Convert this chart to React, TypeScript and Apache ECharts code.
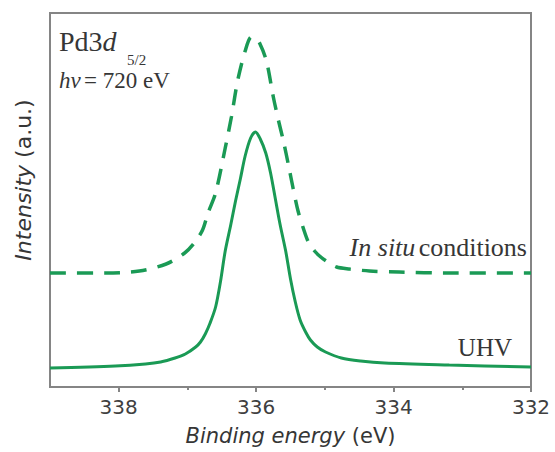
import React, { useEffect, useRef } from 'react';
import * as echarts from 'echarts';

// Binding energy (eV) and intensity (a.u.)
const bindingEnergyUHV = [339.0, 338.05, 337.61, 337.39, 337.18, 337.03, 336.88, 336.81, 336.74, 336.67, 336.59, 336.52, 336.45, 336.37, 336.3, 336.23, 336.16, 336.08, 336.01, 335.94, 335.86, 335.79, 335.72, 335.65, 335.57, 335.5, 335.43, 335.36, 335.28, 335.21, 335.11, 334.99, 334.76, 334.48, 334.13, 333.19, 332.0];
const intensityUHV = [19, 21, 23, 25, 29, 33, 40, 45, 53, 64, 80, 105, 136, 162, 186, 208, 231, 249, 255, 248, 234, 214, 188, 162, 136, 108, 85, 67, 55, 47, 40, 35, 29, 26, 24, 22, 20];

const bindingEnergyInSitu = [339.0, 338.18, 337.7, 337.31, 337.04, 336.9, 336.78, 336.7, 336.59, 336.45, 336.36, 336.27, 336.16, 336.07, 336.01, 335.95, 335.85, 335.75, 335.68, 335.6, 335.53, 335.46, 335.39, 335.31, 335.24, 335.15, 335.06, 334.96, 334.83, 334.64, 334.35, 333.92, 333.19, 332.0];
const intensityInSitu = [114, 114, 116, 123, 134, 144, 157, 174, 194, 239, 270, 306, 336, 350, 349, 344, 326, 290, 268, 245, 222, 198, 176, 158, 145, 136, 130, 125, 120, 118, 116, 115, 114, 114];

const majorTicks = [338, 336, 334, 332];
const minorTicks = [337, 335, 333];

const GREEN = '#1a9a55';
const FRAME = '#858585';
const TEXT = '#363636';

export default function App() {
  const ref = useRef<HTMLDivElement>(null);
  useEffect(() => {
    document.body.style.margin = '0';
    const chart = echarts.init(ref.current!, null, { renderer: 'svg' });
    const uhv = bindingEnergyUHV.map((x, i) => [x, intensityUHV[i]]);
    const insitu = bindingEnergyInSitu.map((x, i) => [x, intensityInSitu[i]]);
    chart.setOption({
      animation: false,
      backgroundColor: '#ffffff',
      grid: {
        left: 50, right: 24, top: 13, bottom: 65,
        show: true, borderColor: FRAME, borderWidth: 2,
        outerBoundsMode: 'none',
      },
      xAxis: [
        {
          type: 'value', inverse: true, min: 332, max: 339, position: 'bottom',
          axisLine: { show: true, lineStyle: { color: FRAME, width: 2 } },
          axisTick: { show: true, length: 5, inside: false, customValues: majorTicks, lineStyle: { color: FRAME, width: 2 } },
          axisLabel: {
            show: true, customValues: majorTicks, margin: 10,
            fontFamily: 'DejaVu Sans', fontSize: 20, color: '#404040',
            formatter: (v: number) => String(v),
          },
          splitLine: { show: false },
          name: '{i|Binding energy} (eV)',
          nameLocation: 'middle', nameGap: 38,
          nameTextStyle: {
            fontFamily: 'DejaVu Sans', fontSize: 21, color: TEXT,
            rich: { i: { fontFamily: 'DejaVu Sans', fontSize: 21, fontStyle: 'italic', color: TEXT } },
          },
        },
        {
          type: 'value', inverse: true, min: 332, max: 339, position: 'bottom',
          axisLine: { show: false },
          axisTick: { show: true, length: 3, inside: false, customValues: minorTicks, lineStyle: { color: FRAME, width: 2 } },
          axisLabel: { show: false },
          splitLine: { show: false },
        },
      ],
      yAxis: {
        type: 'value', min: 0, max: 374,
        axisLine: { show: false }, axisTick: { show: false },
        axisLabel: { show: false }, splitLine: { show: false },
      },
      series: [
        {
          name: 'In situ conditions', type: 'line', data: insitu,
          showSymbol: false, smooth: 0.3,
          lineStyle: { color: GREEN, width: 3.5, type: [16, 11] },
        },
        {
          name: 'UHV', type: 'line', data: uhv,
          showSymbol: false, smooth: 0.3,
          lineStyle: { color: GREEN, width: 3 },
        },
      ],
      graphic: [
        {
          type: 'text', x: 59, y: 41.5,
          style: {
            text: '{n|Pd3}{i|d}',
            verticalAlign: 'middle', align: 'left',
            rich: {
              n: { fontFamily: 'Liberation Serif', fontSize: 28, fill: TEXT },
              i: { fontFamily: 'Liberation Serif', fontSize: 28, fontStyle: 'italic', fill: TEXT },
            },
          },
        },
        {
          type: 'text', x: 127, y: 59.5,
          style: { text: '5/2', fontFamily: 'Liberation Serif', fontSize: 15, fill: TEXT, verticalAlign: 'middle', align: 'left' },
        },
        {
          type: 'text', x: 59, y: 80,
          style: {
            text: '{i|hv} {n|= 720 eV}',
            verticalAlign: 'middle', align: 'left',
            rich: {
              n: { fontFamily: 'Liberation Serif', fontSize: 23, fill: TEXT },
              i: { fontFamily: 'Liberation Serif', fontSize: 23, fontStyle: 'italic', fill: TEXT },
            },
          },
        },
        {
          type: 'text', x: 527, y: 247.5,
          style: {
            text: '{i|In situ} {n|conditions}',
            verticalAlign: 'middle', align: 'right',
            rich: {
              n: { fontFamily: 'Liberation Serif', fontSize: 26, fill: TEXT },
              i: { fontFamily: 'Liberation Serif', fontSize: 26, fontStyle: 'italic', fill: TEXT },
            },
          },
        },
        {
          type: 'text', x: 512, y: 347.5,
          style: { text: 'UHV', fontFamily: 'Liberation Serif', fontSize: 25, fill: TEXT, verticalAlign: 'middle', align: 'right' },
        },
        {
          type: 'text', x: 23, y: 180, rotation: Math.PI / 2,
          style: {
            text: '{i|Intensity} (a.u.)',
            verticalAlign: 'middle', align: 'center',
            rich: {
              n: { fontFamily: 'DejaVu Sans', fontSize: 22, fill: TEXT },
              i: { fontFamily: 'DejaVu Sans', fontSize: 22, fontStyle: 'italic', fill: TEXT },
            },
            fontFamily: 'DejaVu Sans', fontSize: 22, fill: TEXT,
          },
        },
      ],
    });
    return () => chart.dispose();
  }, []);
  return (
    <div
      ref={ref}
      style={{ width: 555, height: 452, position: 'fixed', left: 0, top: 0, background: '#fff' }}
    />
  );
}
